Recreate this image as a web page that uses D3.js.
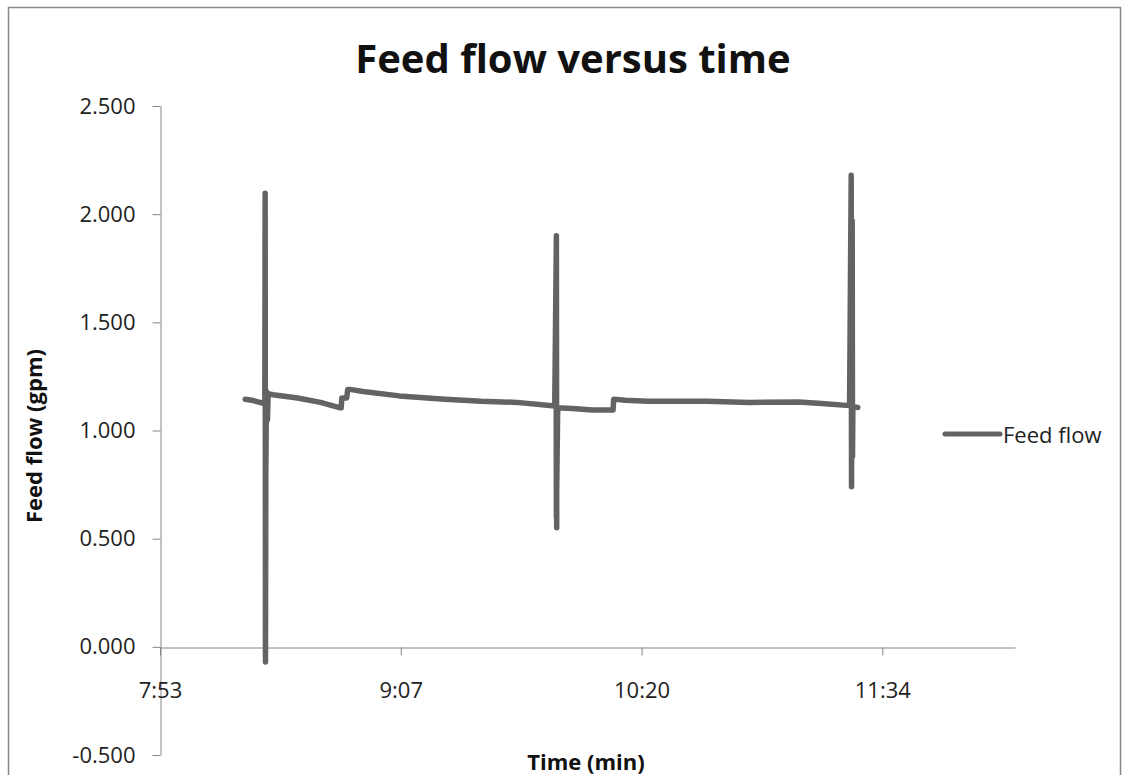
<!DOCTYPE html>
<html lang="en">

<head>
  <meta charset="utf-8">
  <title>Feed flow versus time</title>
  <script src="https://d3js.org/d3.v7.min.js"></script>
</head>

<body style="margin:0;background:#fff">
  <svg width="1126" height="775"></svg>

  <style>
    text {
      font-family: "Open Sans", sans-serif;
      fill: #222;
    }
    .axis path, .axis line {
      stroke: #868686;
    }
    .axis text {
      font-size: 22px;
      fill: #222;
    }
    .titulo {
      font-size: 40px;
      font-weight: bold;
      fill: #111;
    }
    .rotulo {
      font-size: 22px;
      font-weight: bold;
      fill: #111;
    }
  </style>

  <script>
    // time in minutes since midnight, value in gpm
    var feedTime = [
      499.0, 501.0, 503.5, 504.6,
      505.0, 505.1, 505.2, 505.3, 505.5, 505.8, 506.0,
      507.5, 515.0, 522.0, 528.0, 528.3, 528.5, 530.0, 530.3, 531.0,
      535.0, 546.0, 560.0, 571.0, 582.0, 593.5,
      594.0, 594.1, 593.9, 594.0, 594.4,
      600.0, 605.0, 611.3, 611.5, 615.0, 622.0, 640.0, 653.0, 668.0, 675.0, 683.5,
      684.0, 684.1, 684.3, 684.4, 684.5, 686.0
    ];
    var feedFlow = [
      1.144, 1.140, 1.130, 1.125,
      1.120, 2.097, -0.070, 0.800, 1.180, 1.050, 1.170,
      1.165, 1.150, 1.130, 1.105, 1.105, 1.150, 1.150, 1.190, 1.190,
      1.180, 1.160, 1.145, 1.135, 1.130, 1.113,
      1.900, 0.550, 1.680, 0.600, 1.105,
      1.100, 1.095, 1.095, 1.145, 1.140, 1.135, 1.135, 1.130, 1.132, 1.125, 1.115,
      2.180, 0.740, 1.970, 0.880, 1.110, 1.106
    ];
    var xTickValues = [473, 546.5, 620, 693.5];
    var xTickLabels = ["7:53", "9:07", "10:20", "11:34"];
    var yTickValues = [-0.5, 0, 0.5, 1, 1.5, 2, 2.5];

    var svg = d3.select("svg");

    // moldura do gráfico
    svg.append("rect")
      .attr("x", 8.5).attr("y", 7.5)
      .attr("width", 1112).attr("height", 800)
      .attr("fill", "none")
      .attr("stroke", "#888")
      .attr("stroke-width", 1.5);

    var x = d3.scaleLinear().domain([473, 734]).range([160, 1015]);
    var y = d3.scaleLinear().domain([-0.5, 2.5]).range([755, 106]);

    // formato com hífen comum no lugar do sinal de menos
    var fmt = d => d3.format(".3f")(d).replace("\u2212", "-");

    svg.append("g")
      .attr("class", "axis")
      .attr("transform", "translate(160.5,0)")
      .call(d3.axisLeft(y).tickValues(yTickValues).tickSize(8).tickPadding(17)
        .tickFormat(fmt).tickSizeOuter(0));

    svg.append("g")
      .attr("class", "axis")
      .attr("transform", "translate(0," + (Math.round(y(0)) + 0.5) + ")")
      .call(d3.axisBottom(x).tickValues(xTickValues).tickSize(8).tickPadding(27)
        .tickFormat((d, i) => xTickLabels[i]).tickSizeOuter(0));

    var line = d3.line()
      .x((d, i) => x(feedTime[i]))
      .y(d => y(d));

    svg.append("path")
      .datum(feedFlow)
      .attr("d", line)
      .attr("fill", "none")
      .attr("stroke", "#636363")
      .attr("stroke-width", 5.5)
      .attr("stroke-linejoin", "round")
      .attr("stroke-linecap", "round");

    svg.append("text")
      .attr("class", "titulo")
      .attr("x", 573).attr("y", 73)
      .attr("text-anchor", "middle")
      .text("Feed flow versus time");

    svg.append("text")
      .attr("class", "rotulo")
      .attr("x", 586).attr("y", 770)
      .attr("text-anchor", "middle")
      .text("Time (min)");

    svg.append("text")
      .attr("class", "rotulo")
      .attr("transform", "translate(42,436) rotate(-90)")
      .attr("text-anchor", "middle")
      .text("Feed flow (gpm)");

    // legenda
    var leg = svg.append("g").attr("transform", "translate(945,434)");
    leg.append("line")
      .attr("x1", 0).attr("x2", 55)
      .attr("stroke", "#636363")
      .attr("stroke-width", 5)
      .attr("stroke-linecap", "round");
    leg.append("text")
      .attr("x", 58).attr("y", 9)
      .style("font-size", "22px")
      .text("Feed flow");
  </script>

</body>

</html>
